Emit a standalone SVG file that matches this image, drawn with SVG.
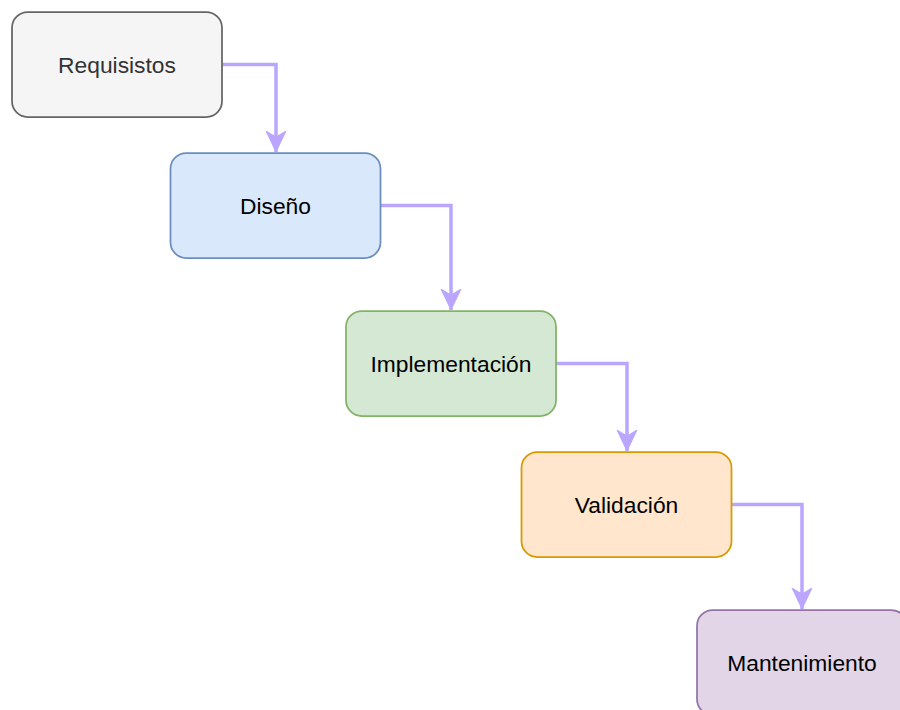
<svg xmlns="http://www.w3.org/2000/svg" width="900" height="710" viewBox="0 0 900 710">
<defs>
<style>
.box{stroke-width:1.75}
.lbl{font-family:"Liberation Sans",Arial,sans-serif;font-size:22.8px;text-anchor:middle;dominant-baseline:central;fill:#000}
.edge{fill:none;stroke:#bba6ff;stroke-width:3.5}
</style>
<marker id="arr" markerUnits="userSpaceOnUse" markerWidth="26" markerHeight="26" viewBox="0 0 26 26" refX="21" refY="13" orient="auto">
<path d="M0,3 L21,13 L0,23 L6,13 Z" fill="#bba6ff" stroke="#bba6ff" stroke-width="1"/>
</marker>
</defs>
<rect width="900" height="710" fill="#ffffff"/>
<g id="connectors">
<path class="edge" d="M222,64.5 H276 V152" marker-end="url(#arr)"/>
<path class="edge" d="M381,205.5 H451 V310" marker-end="url(#arr)"/>
<path class="edge" d="M556,363.5 H627 V451" marker-end="url(#arr)"/>
<path class="edge" d="M732,504.5 H802 V609" marker-end="url(#arr)"/>
</g>
<g id="requisistos">
<rect class="box" x="12" y="12" width="210" height="105" rx="15.75" fill="#f5f5f5" stroke="#666666"/>
<text class="lbl" x="117" y="64.5" style="fill:#333333">Requisistos</text>
</g>
<g id="diseno">
<rect class="box" x="170.5" y="153" width="210" height="105" rx="15.75" fill="#dae8fc" stroke="#6c8ebf"/>
<text class="lbl" x="275.5" y="205.5">Diseño</text>
</g>
<g id="implementacion">
<rect class="box" x="346" y="311" width="210" height="105" rx="15.75" fill="#d5e8d4" stroke="#82b366"/>
<text class="lbl" x="451" y="363.5">Implementación</text>
</g>
<g id="validacion">
<rect class="box" x="521.5" y="452" width="210" height="105" rx="15.75" fill="#ffe6cc" stroke="#d79b00"/>
<text class="lbl" x="626.5" y="504.5">Validación</text>
</g>
<g id="mantenimiento">
<rect class="box" x="697" y="610" width="210" height="105" rx="15.75" fill="#e1d5e7" stroke="#9673a6"/>
<text class="lbl" x="802" y="662.5">Mantenimiento</text>
</g>
</svg>
